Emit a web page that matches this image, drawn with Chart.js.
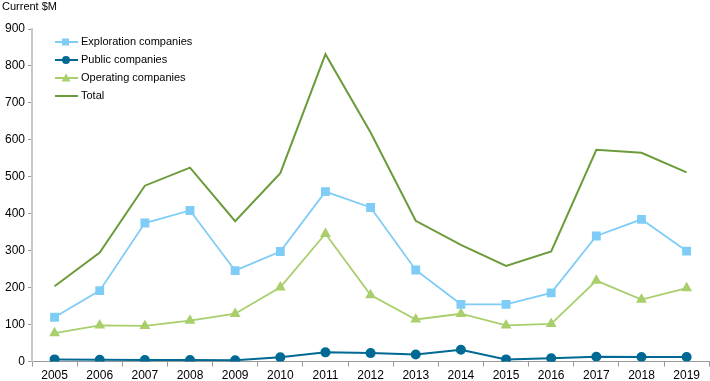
<!DOCTYPE html>
<html>
<head>
<meta charset="utf-8">
<script src="https://cdn.jsdelivr.net/npm/chart.js@4"></script>
<style>
  html, body { margin: 0; padding: 0; background: #fff; overflow: hidden; }
  #wrap { width: 716px; height: 381px; position: relative; }
</style>
</head>
<body>
<div id="wrap"><canvas id="canva"></canvas></div>
<script>
const years = ['2005','2006','2007','2008','2009','2010','2011','2012','2013','2014','2015','2016','2017','2018','2019'];
const exploration = [120, 192, 375, 409, 246, 298, 460, 417, 248, 155, 155, 186, 340, 385, 299];
const publicCos   = [6, 5, 4, 4, 3.5, 11.5, 25, 23, 19, 32, 6, 9, 13, 12.5, 12.5];
const operating   = [77, 98, 96.5, 111, 129.5, 201, 346, 180, 114, 129.5, 98, 102, 219, 168, 199];
const total       = [204, 295, 476, 525, 380, 510, 832, 620, 381, 316, 259, 298, 573, 565, 512];
const yTicks = [0, 100, 200, 300, 400, 500, 600, 700, 800, 900];

const FONT = 'Liberation Sans, Arial, sans-serif';
const ctx = document.getElementById('canva');

// legend drawn inside the plot, top left
const insideLegend = {
  id: 'insideLegend',
  afterDraw(chart) {
    const c = chart.ctx;
    c.save();
    c.font = '11px ' + FONT;
    c.fillStyle = '#000';
    c.textBaseline = 'middle';
    c.fillText('Current $M', 2, 7);
    chart.data.datasets.forEach((ds, i) => {
      const y = 42 + i * 18;
      c.strokeStyle = ds.borderColor;
      c.lineWidth = 2;
      c.beginPath();
      c.moveTo(55, y);
      c.lineTo(78, y);
      c.stroke();
      if (ds.pointRadius > 0) {
        c.fillStyle = ds.backgroundColor;
        c.beginPath();
        if (ds.pointStyle === 'rect') {
          c.rect(62, y - 3.5, 7, 7);
        } else if (ds.pointStyle === 'circle') {
          c.arc(66, y, 4, 0, Math.PI * 2);
        } else {
          c.moveTo(66, y - 4.5);
          c.lineTo(70.5, y + 3.5);
          c.lineTo(61.5, y + 3.5);
          c.closePath();
        }
        c.fill();
      }
      c.fillStyle = '#000';
      c.fillText(ds.label, 81, y);
    });
    c.restore();
  }
};

Chart.defaults.font.family = FONT;
Chart.defaults.font.size = 12;
Chart.defaults.color = '#000';

new Chart(ctx, {
  type: 'line',
  data: {
    labels: years,
    datasets: [{
      label: 'Exploration companies',
      data: exploration,
      borderColor: '#7fcdf6',
      backgroundColor: '#7fcdf6',
      borderWidth: 1.8,
      pointStyle: 'rect',
      pointRadius: 5,
      tension: 0
    }, {
      label: 'Public companies',
      data: publicCos,
      borderColor: '#006a94',
      backgroundColor: '#006a94',
      borderWidth: 2,
      pointStyle: 'circle',
      pointRadius: 4,
      tension: 0
    }, {
      label: 'Operating companies',
      data: operating,
      borderColor: '#a9cf6c',
      backgroundColor: '#a9cf6c',
      borderWidth: 1.8,
      pointStyle: 'triangle',
      pointRadius: 4.5,
      tension: 0
    }, {
      label: 'Total',
      data: total,
      borderColor: '#6b9b3a',
      backgroundColor: '#6b9b3a',
      borderWidth: 2,
      pointRadius: 0,
      tension: 0
    }]
  },
  options: {
    responsive: true,
    maintainAspectRatio: false,
    animation: false,
    layout: { padding: { top: 29, right: 0, left: 0, bottom: -4 } },
    plugins: {
      legend: { display: false },
      title: { display: false },
      tooltip: { enabled: false }
    },
    scales: {
      x: {
        offset: true,
        grid: {
          display: true,
          drawOnChartArea: false,
          drawTicks: true,
          tickLength: 5,
          color: '#999',
          offset: true
        },
        border: { color: '#999', width: 1 },
        ticks: { padding: 2, maxRotation: 0, font: { size: 12 } }
      },
      y: {
        min: 0,
        max: 900,
        afterBuildTicks: axis => { axis.ticks = yTicks.map(v => ({ value: v })); },
        afterFit: axis => { axis.width = 32; },
        grid: {
          display: true,
          drawOnChartArea: false,
          drawTicks: true,
          tickLength: 4,
          color: '#999'
        },
        border: { color: '#c8c8c8', width: 2 },
        ticks: { padding: 3, font: { size: 12 } }
      }
    }
  },
  plugins: [insideLegend]
});
</script>
</body>
</html>
